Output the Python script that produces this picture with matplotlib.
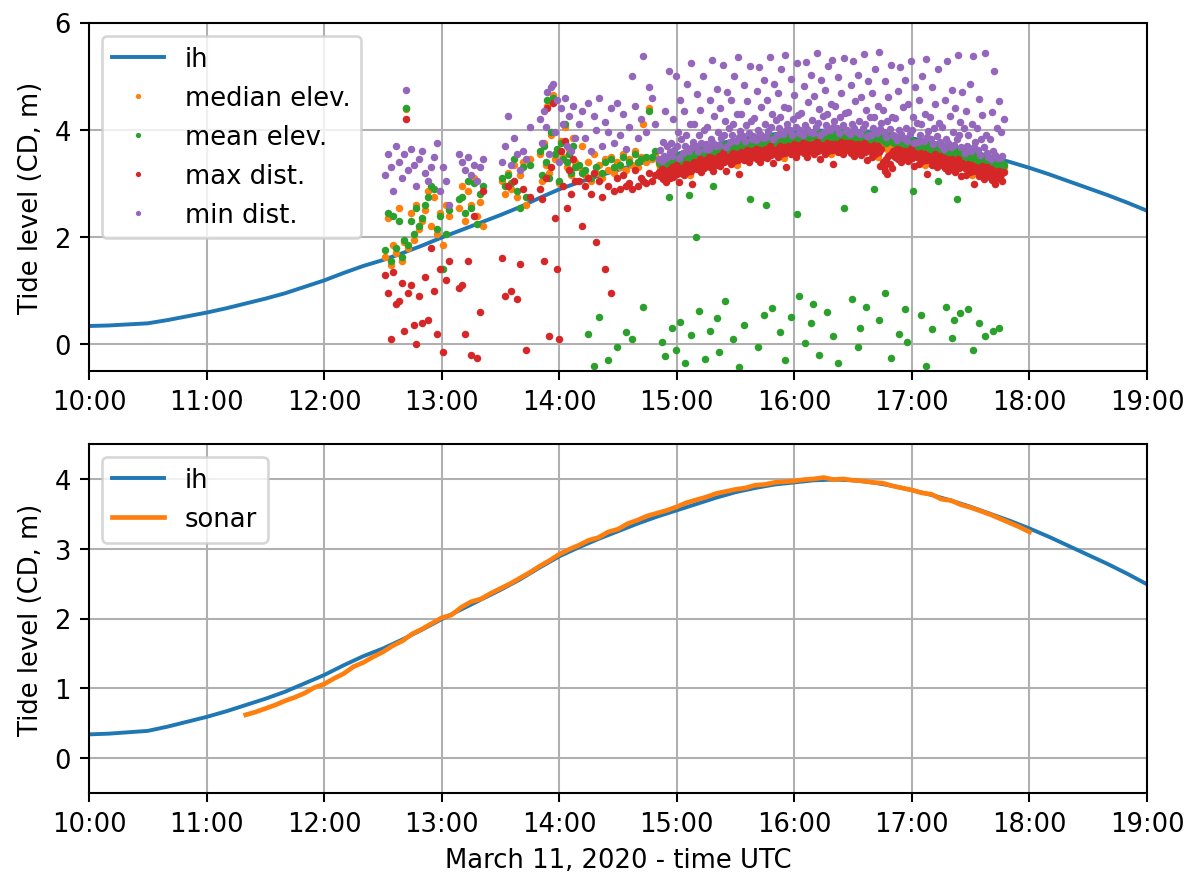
import matplotlib.pyplot as plt
import numpy as np

# predicted tide (ih), every 10 min from 10:00
ih_min = [0, 10, 20, 30, 40, 50, 60, 70, 80, 90,
          100, 110, 120, 130, 140, 150, 160, 170, 180, 190,
          200, 210, 220, 230, 240, 250, 260, 270, 280, 290,
          300, 310, 320, 330, 340, 350, 360, 370, 380, 390,
          400, 410, 420, 430, 440, 450, 460, 470, 480, 490,
          500, 510, 520, 530, 540]
ih_level = [0.34, 0.35, 0.37, 0.39, 0.45, 0.52, 0.59, 0.67, 0.76, 0.85,
            0.95, 1.07, 1.19, 1.33, 1.46, 1.57, 1.70, 1.84, 1.99, 2.13,
            2.27, 2.41, 2.56, 2.73, 2.89, 3.02, 3.14, 3.25, 3.36, 3.46,
            3.55, 3.64, 3.73, 3.81, 3.87, 3.92, 3.95, 3.98, 3.99, 3.98,
            3.95, 3.90, 3.84, 3.77, 3.69, 3.60, 3.50, 3.40, 3.29, 3.17,
            3.04, 2.91, 2.78, 2.64, 2.49]

# sonar tide, every 5 min from 11:20 (minutes after 10:00)
sonar_min = [80, 85, 90, 95, 100, 105, 110, 115, 120, 125,
             130, 135, 140, 145, 150, 155, 160, 165, 170, 175,
             180, 185, 190, 195, 200, 205, 210, 215, 220, 225,
             230, 235, 240, 245, 250, 255, 260, 265, 270, 275,
             280, 285, 290, 295, 300, 305, 310, 315, 320, 325,
             330, 335, 340, 345, 350, 355, 360, 365, 370, 375,
             380, 385, 390, 395, 400, 405, 410, 415, 420, 425,
             430, 435, 440, 445, 450, 455, 460, 465, 470, 475, 480]
sonar_level = [0.62, 0.66, 0.71, 0.76, 0.82, 0.87, 0.93, 1.01, 1.06, 1.14,
               1.21, 1.31, 1.37, 1.45, 1.52, 1.61, 1.68, 1.78, 1.85, 1.93,
               2.01, 2.05, 2.16, 2.24, 2.28, 2.36, 2.43, 2.50, 2.58, 2.66,
               2.75, 2.83, 2.92, 2.99, 3.05, 3.12, 3.16, 3.24, 3.28, 3.36,
               3.41, 3.47, 3.51, 3.55, 3.60, 3.66, 3.70, 3.74, 3.79, 3.82,
               3.85, 3.87, 3.91, 3.92, 3.95, 3.96, 3.97, 3.99, 4.00, 4.02,
               3.99, 4.00, 3.98, 3.97, 3.95, 3.94, 3.90, 3.87, 3.84, 3.80,
               3.78, 3.71, 3.69, 3.63, 3.59, 3.54, 3.49, 3.43, 3.37, 3.31, 3.24]

# lidar scans, minutes after 12:00
scan_min = [
    31, 32.5, 34, 35, 36.5, 38, 39.5, 41, 42, 43, 44.5, 46, 47, 48.5, 50, 51.5,
    53, 54.5, 56, 57.5, 59, 60.5, 62, 63.5,
    69, 70.5, 72, 73.5, 75, 76.5, 78, 79.5, 81,
    91, 92.5, 94, 95.5, 97, 98.5, 100, 101.5, 103, 105,
    110, 111, 112, 113, 114, 115, 116, 117, 118, 119, 120, 121, 122, 123, 124,
    125, 126, 127, 128,
    130, 131.5, 133, 134.5, 136, 137.5, 139, 140.5, 142, 143.5, 145, 146.5, 148,
    149.5, 151, 152.5, 154, 155.5, 157, 158.5, 160, 161.5, 163, 164.5, 166, 167.5, 169,
    171.0, 171.6, 172.2, 172.8, 173.4, 174.0, 174.6, 175.2, 175.8, 176.4,
    177.0, 177.6, 178.2, 178.8, 179.4, 180.0, 180.6, 181.2, 181.8, 182.4,
    183.0, 183.6, 184.2, 184.8, 185.4, 186.0, 186.6, 187.2, 187.8, 188.4,
    189.0, 189.6, 190.2, 190.8, 191.4, 192.0, 192.6, 193.2, 193.8, 194.4,
    195.0, 195.6, 196.2, 196.8, 197.4, 198.0, 198.6, 199.2, 199.8, 200.4,
    201.0, 201.6, 202.2, 202.8, 203.4, 204.0, 204.6, 205.2, 205.8, 206.4,
    207.0, 207.6, 208.2, 208.8, 209.4, 210.0, 210.6, 211.2, 211.8, 212.4,
    213.0, 213.6, 214.2, 214.8, 215.4, 216.0, 216.6, 217.2, 217.8, 218.4,
    219.0, 219.6, 220.2, 220.8, 221.4, 222.0, 222.6, 223.2, 223.8, 224.4,
    225.0, 225.6, 226.2, 226.8, 227.4, 228.0, 228.6, 229.2, 229.8, 230.4,
    231.0, 231.6, 232.2, 232.8, 233.4, 234.0, 234.6, 235.2, 235.8, 236.4,
    237.0, 237.6, 238.2, 238.8, 239.4, 240.0, 240.6, 241.2, 241.8, 242.4,
    243.0, 243.6, 244.2, 244.8, 245.4, 246.0, 246.6, 247.2, 247.8, 248.4,
    249.0, 249.6, 250.2, 250.8, 251.4, 252.0, 252.6, 253.2, 253.8, 254.4,
    255.0, 255.6, 256.2, 256.8, 257.4, 258.0, 258.6, 259.2, 259.8, 260.4,
    261.0, 261.6, 262.2, 262.8, 263.4, 264.0, 264.6, 265.2, 265.8, 266.4,
    267.0, 267.6, 268.2, 268.8, 269.4, 270.0, 270.6, 271.2, 271.8, 272.4,
    273.0, 273.6, 274.2, 274.8, 275.4, 276.0, 276.6, 277.2, 277.8, 278.4,
    279.0, 279.6, 280.2, 280.8, 281.4, 282.0, 282.6, 283.2, 283.8, 284.4,
    285.0, 285.6, 286.2, 286.8, 287.4, 288.0, 288.6, 289.2, 289.8, 290.4,
    291.0, 291.6, 292.2, 292.8, 293.4, 294.0, 294.6, 295.2, 295.8, 296.4,
    297.0, 297.6, 298.2, 298.8, 299.4, 300.0, 300.6, 301.2, 301.8, 302.4,
    303.0, 303.6, 304.2, 304.8, 305.4, 306.0, 306.6, 307.2, 307.8, 308.4,
    309.0, 309.6, 310.2, 310.8, 311.4, 312.0, 312.6, 313.2, 313.8, 314.4,
    315.0, 315.6, 316.2, 316.8, 317.4, 318.0, 318.6, 319.2, 319.8, 320.4,
    321.0, 321.6, 322.2, 322.8, 323.4, 324.0, 324.6, 325.2, 325.8, 326.4,
    327.0, 327.6, 328.2, 328.8, 329.4, 330.0, 330.6, 331.2, 331.8, 332.4,
    333.0, 333.6, 334.2, 334.8, 335.4, 336.0, 336.6, 337.2, 337.8, 338.4,
    339.0, 339.6, 340.2, 340.8, 341.4, 342.0, 342.6, 343.2, 343.8, 344.4,
    345.0, 345.6, 346.2, 346.8]

median_elev = [
    1.62, 2.35, 1.48, 1.85, 1.70, 2.55, 1.55, 1.90, 4.38, 1.80, 2.45, 1.95, 2.60, 2.15, 2.30, 2.50,
    2.85, 2.20, 2.75, 2.05, 2.45, 1.85, 2.60, 2.40,
    2.55, 2.95, 2.30, 2.85, 2.60, 3.10, 2.40, 2.65, 2.20,
    3.05, 2.80, 3.20, 2.90, 3.35, 2.75, 3.15, 3.40, 2.60, 3.45,
    3.55, 3.05, 3.75, 3.35, 4.45, 3.20, 3.90, 4.65, 3.45, 3.60, 3.00, 3.80, 3.50, 4.05, 3.30,
    3.65, 3.15, 3.85, 3.40,
    3.30, 3.70, 3.15, 3.40, 3.05, 3.55, 3.20, 3.35, 3.10, 3.45, 3.25, 3.50, 3.20,
    3.40, 3.30, 3.55, 3.25, 3.45, 3.35, 3.60, 3.30, 3.50, 4.10, 3.40, 4.40, 3.45, 3.55,
    3.37, 3.31, 3.42, 3.27, 3.35, 3.40, 3.23, 3.38, 3.33, 3.44,
    3.40, 3.47, 3.35, 3.42, 3.25, 3.45, 3.38, 3.49, 3.32, 3.43,
    3.50, 3.39, 3.46, 3.56, 3.42, 3.48, 3.15, 3.44, 3.51, 3.41,
    3.54, 3.48, 3.59, 3.44, 3.52, 3.57, 3.40, 3.55, 3.50, 3.61,
    3.59, 3.53, 3.64, 3.49, 3.57, 3.62, 3.45, 3.60, 3.55, 3.66,
    3.61, 3.68, 3.56, 3.63, 3.46, 3.66, 3.59, 3.70, 3.53, 3.64,
    3.70, 3.59, 3.66, 3.76, 3.62, 3.68, 3.35, 3.64, 3.71, 3.61,
    3.72, 3.66, 3.77, 3.62, 3.70, 3.75, 3.58, 3.73, 3.68, 3.79,
    3.75, 3.69, 3.80, 3.65, 3.73, 3.78, 3.61, 3.76, 3.71, 3.82,
    3.75, 3.82, 3.70, 3.77, 3.60, 3.80, 3.73, 3.84, 3.67, 3.78,
    3.83, 3.72, 3.79, 3.89, 3.75, 3.81, 3.48, 3.77, 3.84, 3.74,
    3.83, 3.77, 3.88, 3.73, 3.81, 3.86, 3.69, 3.84, 3.79, 3.90,
    3.85, 3.79, 3.90, 3.75, 3.83, 3.88, 3.71, 3.86, 3.81, 3.92,
    3.83, 3.90, 3.78, 3.85, 3.68, 3.88, 3.81, 3.92, 3.75, 3.86,
    3.89, 3.78, 3.85, 3.95, 3.81, 3.87, 3.54, 3.83, 3.90, 3.80,
    3.87, 3.81, 3.92, 3.77, 3.85, 3.90, 3.73, 3.88, 3.83, 3.94,
    3.86, 3.80, 3.91, 3.76, 3.84, 3.89, 3.72, 3.87, 3.82, 3.93,
    3.81, 3.88, 3.76, 3.83, 3.66, 3.86, 3.79, 3.90, 3.73, 3.84,
    3.84, 3.73, 3.80, 3.90, 3.76, 3.82, 3.49, 3.78, 3.85, 3.75,
    3.92, 3.86, 3.80, 3.74, 3.68, 3.62, 3.71, 3.58, 3.66, 3.53,
    3.74, 3.68, 3.79, 3.64, 3.72, 3.77, 3.60, 3.75, 3.70, 3.81,
    3.69, 3.76, 3.64, 3.71, 3.54, 3.74, 3.67, 3.78, 3.61, 3.72,
    3.70, 3.59, 3.66, 3.76, 3.62, 3.68, 3.35, 3.64, 3.71, 3.61,
    3.63, 3.57, 3.68, 3.53, 3.61, 3.66, 3.49, 3.64, 3.59, 3.70,
    3.58, 3.52, 3.63, 3.48, 3.56, 3.61, 3.44, 3.59, 3.54, 3.65,
    3.50, 3.57, 3.45, 3.52, 3.35, 3.55, 3.48, 3.59, 3.42, 3.53,
    3.50, 3.39, 3.46, 3.56, 3.42, 3.48, 3.15, 3.44, 3.51, 3.41,
    3.42, 3.36, 3.47, 3.32, 3.40, 3.45, 3.28, 3.43, 3.38, 3.49,
    3.36, 3.30, 3.41, 3.26, 3.34, 3.39, 3.22, 3.37, 3.32, 3.43,
    3.33, 3.28, 3.36, 3.30]

mean_elev = [
    1.75, 2.45, 1.55, 2.40, 1.80, 2.30, 1.62, 1.95, 4.40, 1.85, 2.30, 2.05, 2.55, 2.20, 2.35, 2.60,
    2.75, 2.95, 2.90, 2.15, 2.40, 1.40, 2.05, 2.50,
    2.70, 2.75, 2.45, 3.05, 2.55, 3.00, 2.25, 2.80, 2.95,
    3.10, 2.95, 3.15, 3.00, 3.45, 2.85, 2.55, 3.30, 2.75, 3.35,
    3.60, 3.15, 3.70, 3.40, 4.55, 3.10, 3.95, 4.60, 3.55, 3.65, 3.05, 3.75, 3.45, 4.10, 3.40,
    3.55, 3.20, 3.70, 3.30,
    3.35, 3.20, 3.25, 0.20, 3.10, -0.40, 3.30, 0.50, 3.20, 3.40, -0.30, 3.45, 3.30,
    -0.05, 3.35, 3.50, 0.22, 3.40, 0.10, 3.55, 3.40, 3.45, 0.70, 3.50, 4.35, 3.50, 3.60,
    3.40, 3.36, 0.05, 3.33, 3.39, -0.22, 3.37, 3.30, 2.75, 3.38,
    3.46, 0.30, 3.49, 3.39, -0.10, 3.51, 3.43, 3.36, 0.42, 3.44,
    3.51, 3.47, -0.35, 3.44, 3.50, 2.78, 3.48, 0.18, 3.52, 3.46,
    3.57, 2.00, 3.60, 3.50, 0.62, 3.62, 3.54, 3.47, 3.58, -0.28,
    3.62, 3.58, 3.65, 0.25, 3.61, 3.67, 2.95, 3.52, 3.63, 0.48,
    3.67, -0.15, 3.70, 3.60, 3.66, 3.72, 0.80, 3.57, 3.68, 3.65,
    3.71, 3.67, 3.74, 0.10, 3.70, 3.76, 3.68, 3.61, -0.42, 3.69,
    3.75, 3.71, 0.35, 3.68, 3.74, 3.80, 3.72, 2.70, 3.76, 3.73,
    3.78, 3.74, 3.81, 3.71, -0.05, 3.83, 3.75, 3.68, 3.79, 0.55,
    3.81, 2.60, 3.84, 3.74, 3.80, 3.86, 0.68, 3.71, 3.82, 3.79,
    3.84, 3.80, 3.87, 0.22, 3.83, 3.89, 3.81, -0.30, 3.85, 3.82,
    3.86, 3.82, 0.50, 3.79, 3.85, 3.91, 3.83, 2.42, 3.87, 0.90,
    3.88, 3.84, 3.91, 3.81, 0.02, 3.93, 3.85, 3.78, 3.89, 0.40,
    3.89, 0.75, 3.92, 3.82, 3.88, 3.94, -0.20, 3.79, 3.90, 3.87,
    3.90, 3.86, 3.93, 0.60, 3.89, 3.95, 3.87, 3.80, 0.15, 3.88,
    3.90, 3.86, -0.35, 3.83, 3.89, 3.95, 3.87, 2.55, 3.91, 3.88,
    3.89, 3.85, 3.92, 3.82, 0.85, 3.94, 3.86, 3.79, 3.90, -0.05,
    3.87, 0.30, 3.90, 3.80, 3.86, 3.92, 0.70, 3.77, 3.88, 3.85,
    3.85, 3.81, 3.88, 2.90, 3.84, 3.90, 3.82, 0.45, 3.86, 3.83,
    3.85, 3.79, 0.95, 3.76, 3.82, 3.88, 3.80, -0.25, 3.83, 3.78,
    3.78, 3.74, 3.81, 3.71, 0.20, 3.83, 3.75, 3.68, 3.79, 0.65,
    3.75, 0.05, 3.78, 3.68, 3.74, 3.80, 2.85, 3.65, 3.76, 3.73,
    3.71, 3.67, 3.74, 0.55, 3.70, 3.76, 3.68, -0.40, 3.72, 3.69,
    3.66, 3.62, 0.28, 3.59, 3.65, 3.71, 3.63, 3.05, 3.67, 3.64,
    3.61, 3.57, 3.64, 3.54, 0.70, 3.66, 3.58, 3.51, 3.62, 0.12,
    3.56, 0.45, 3.59, 2.70, 3.55, 3.61, 0.58, 3.46, 3.57, 3.54,
    3.51, 3.47, 3.54, 0.65, 3.50, 3.56, 3.48, -0.10, 3.52, 3.49,
    3.45, 3.41, 0.40, 3.38, 3.44, 3.50, 3.42, 0.15, 3.46, 3.43,
    3.39, 3.35, 3.42, 3.32, 0.25, 3.44, 3.36, 3.29, 3.40, 0.30,
    3.36, 3.31, 3.38, 3.34]

max_dist = [
    1.30, 0.95, 0.10, 1.35, 0.75, 0.80, 1.15, 0.25, 4.20, 0.95, 1.10, 0.35, 0.00, 0.90, 0.40, 1.25,
    0.45, 1.80, 1.00, 0.20, 1.40, -0.15, 1.20, 1.55,
    1.05, 1.10, 0.20, 1.55, -0.20, 2.40, -0.25, 0.60, 2.85,
    1.60, 0.90, 2.95, 1.00, 3.05, 0.85, 1.50, 2.90, -0.10, 2.75,
    2.90, 2.70, 1.55, 3.10, 4.40, 0.15, 3.30, 4.50, 2.35, 1.40, 0.10, 3.60, 2.95, 3.80, 2.55,
    3.25, 2.80, 3.45, 3.05,
    3.05, 2.20, 2.95, 3.10, 2.80, 3.20, 1.90, 3.05, 2.75, 1.40, 2.95, 0.95, 2.85,
    3.10, 2.90, 3.15, 2.95, 3.00, 2.90, 3.25, 2.95, 3.10, 3.05, 3.00, 3.20, 3.05, 3.15,
    3.21, 3.13, 3.27, 3.08, 3.18, 3.23, 3.02, 3.16, 3.25, 3.11,
    3.21, 3.30, 3.12, 3.25, 3.35, 3.18, 3.26, 3.03, 3.28, 3.20,
    3.29, 3.16, 3.33, 3.37, 3.21, 3.27, 3.35, 3.24, 2.98, 3.31,
    3.40, 3.33, 3.26, 3.38, 3.31, 3.45, 3.21, 3.36, 3.29, 3.42,
    3.43, 3.35, 3.49, 3.30, 3.40, 3.47, 3.24, 3.38, 3.34, 3.46,
    3.42, 3.51, 3.33, 3.46, 3.56, 3.39, 3.47, 3.24, 3.49, 3.41,
    3.49, 3.36, 3.53, 3.57, 3.41, 3.47, 3.55, 3.44, 3.18, 3.51,
    3.58, 3.51, 3.44, 3.56, 3.49, 3.63, 3.39, 3.54, 3.47, 3.60,
    3.59, 3.51, 3.65, 3.46, 3.56, 3.63, 3.40, 3.54, 3.50, 3.62,
    3.56, 3.65, 3.47, 3.60, 3.70, 3.53, 3.61, 3.38, 3.63, 3.55,
    3.62, 3.49, 3.66, 3.70, 3.54, 3.60, 3.68, 3.57, 3.31, 3.64,
    3.69, 3.62, 3.55, 3.67, 3.60, 3.74, 3.50, 3.65, 3.58, 3.71,
    3.69, 3.61, 3.75, 3.56, 3.66, 3.73, 3.50, 3.64, 3.60, 3.72,
    3.64, 3.73, 3.55, 3.68, 3.78, 3.61, 3.69, 3.46, 3.71, 3.63,
    3.68, 3.55, 3.72, 3.76, 3.60, 3.66, 3.74, 3.63, 3.37, 3.70,
    3.73, 3.66, 3.59, 3.71, 3.64, 3.78, 3.54, 3.69, 3.62, 3.75,
    3.70, 3.62, 3.76, 3.57, 3.67, 3.74, 3.51, 3.65, 3.61, 3.73,
    3.62, 3.71, 3.53, 3.66, 3.76, 3.59, 3.67, 3.44, 3.69, 3.61,
    3.63, 3.50, 3.67, 3.71, 3.55, 3.61, 3.69, 3.58, 3.32, 3.65,
    3.40, 3.31, 3.24, 3.45, 3.18, 3.52, 3.36, 3.55, 3.29, 3.60,
    3.58, 3.50, 3.64, 3.45, 3.55, 3.62, 3.39, 3.53, 3.49, 3.61,
    3.50, 3.59, 3.41, 3.54, 3.64, 3.47, 3.55, 3.32, 3.57, 3.49,
    3.49, 3.36, 3.53, 3.57, 3.41, 3.47, 3.55, 3.44, 3.18, 3.51,
    3.49, 3.42, 3.35, 3.47, 3.40, 3.54, 3.30, 3.45, 3.38, 3.51,
    3.42, 3.34, 3.48, 3.29, 3.39, 3.46, 3.23, 3.37, 3.33, 3.45,
    3.31, 3.40, 3.22, 3.35, 3.45, 3.28, 3.36, 3.13, 3.38, 3.30,
    3.29, 3.16, 3.33, 3.37, 3.21, 3.27, 3.35, 3.24, 2.98, 3.31,
    3.28, 3.21, 3.14, 3.26, 3.19, 3.33, 3.09, 3.24, 3.17, 3.30,
    3.20, 3.12, 3.26, 3.07, 3.17, 3.24, 2.98, 3.15, 3.11, 3.23,
    3.12, 3.18, 3.05, 3.22]

min_dist = [
    3.15, 3.55, 3.30, 2.85, 3.70, 3.40, 3.10, 3.55, 4.75, 3.25, 3.65, 3.35, 2.95, 3.45, 3.60, 3.20,
    3.05, 3.30, 3.50, 3.75, 2.85, 3.30, 3.05, 2.60,
    3.55, 3.40, 3.25, 3.50, 3.15, 3.35, 3.05, 3.30, 3.45,
    3.40, 3.70, 4.25, 3.35, 3.85, 3.55, 3.25, 3.60, 3.45, 4.05,
    4.20, 3.75, 4.35, 4.05, 4.70, 3.55, 4.80, 4.85, 3.95, 4.55, 3.40, 4.40, 4.10, 4.60, 3.70,
    4.25, 3.60, 4.45, 3.85,
    4.10, 4.35, 3.85, 4.50, 3.60, 4.25, 4.00, 4.60, 3.70, 4.15, 3.95, 4.40, 3.75,
    4.50, 3.90, 4.30, 3.65, 4.05, 5.00, 4.45, 3.85, 4.20, 5.38, 3.95, 4.80, 4.60, 4.10,
    3.45, 3.62, 3.41, 3.78, 3.52, 4.35, 3.48, 3.70, 5.10, 3.58,
    3.75, 3.51, 4.20, 3.63, 5.00, 3.70, 3.95, 3.47, 4.55, 3.83,
    3.57, 4.35, 3.70, 3.90, 4.85, 3.60, 4.10, 5.25, 3.67, 3.78,
    4.11, 3.70, 4.66, 3.61, 3.91, 4.36, 3.76, 5.01, 3.99, 3.65,
    3.73, 4.06, 3.65, 4.56, 3.83, 5.30, 3.76, 4.26, 3.69, 4.76,
    3.96, 3.72, 4.41, 3.84, 5.21, 3.91, 4.16, 3.68, 4.71, 4.04,
    3.77, 4.55, 3.90, 4.10, 5.00, 3.80, 4.30, 5.35, 3.87, 3.98,
    4.29, 3.88, 4.84, 3.79, 4.09, 4.54, 3.94, 5.19, 4.17, 3.83,
    3.89, 4.22, 3.81, 4.72, 3.99, 5.17, 3.92, 4.42, 3.85, 4.92,
    4.10, 3.86, 4.55, 3.98, 5.35, 4.05, 4.30, 3.82, 4.85, 4.18,
    3.90, 4.68, 4.03, 4.23, 5.13, 3.93, 4.43, 5.40, 4.00, 4.11,
    4.40, 3.99, 4.95, 3.90, 4.20, 4.65, 4.05, 5.25, 4.28, 3.94,
    3.99, 4.32, 3.91, 4.82, 4.09, 5.27, 4.02, 4.52, 3.95, 5.02,
    4.18, 3.94, 4.63, 4.06, 5.43, 4.13, 4.38, 3.90, 4.93, 4.26,
    3.96, 4.74, 4.09, 4.29, 5.19, 3.99, 4.49, 5.30, 4.06, 4.17,
    4.44, 4.03, 4.99, 3.94, 4.24, 4.69, 4.09, 5.34, 4.32, 3.98,
    4.00, 4.33, 3.92, 4.83, 4.10, 5.28, 4.03, 4.53, 3.96, 5.03,
    4.16, 3.92, 4.61, 4.04, 5.41, 4.11, 4.36, 3.88, 4.91, 4.24,
    3.91, 4.69, 4.04, 4.24, 5.14, 3.94, 4.44, 5.45, 4.01, 4.12,
    4.36, 3.95, 4.91, 3.86, 4.16, 4.61, 4.01, 5.21, 4.24, 3.90,
    3.89, 4.22, 3.81, 4.72, 3.99, 5.17, 3.92, 4.42, 3.85, 4.92,
    4.04, 3.80, 4.49, 3.92, 5.29, 3.99, 4.24, 3.76, 4.79, 4.12,
    3.77, 4.55, 3.90, 4.10, 5.00, 3.80, 4.30, 5.32, 3.87, 3.98,
    4.24, 3.83, 4.79, 3.74, 4.04, 4.49, 3.89, 5.14, 4.12, 3.78,
    3.72, 4.05, 3.64, 4.55, 3.82, 5.28, 3.75, 4.25, 3.68, 4.75,
    3.95, 3.71, 4.40, 3.83, 5.40, 3.90, 4.15, 3.67, 4.70, 4.03,
    3.57, 4.35, 3.70, 3.90, 4.85, 3.60, 4.10, 5.38, 3.67, 3.78,
    4.03, 3.62, 4.58, 3.53, 3.83, 4.28, 3.68, 5.43, 3.91, 3.57,
    3.50, 3.83, 3.45, 4.33, 3.60, 5.10, 3.53, 4.03, 3.47, 4.53,
    3.48, 3.95, 3.52, 4.20]

hour_ticks = [10, 11, 12, 13, 14, 15, 16, 17, 18, 19]
hour_labels = ['10:00', '11:00', '12:00', '13:00', '14:00',
               '15:00', '16:00', '17:00', '18:00', '19:00']

ih_h = 10 + np.array(ih_min) / 60.0
sonar_h = 10 + np.array(sonar_min) / 60.0
scan_h = 12 + np.array(scan_min) / 60.0

fig = plt.figure(figsize=(6.4, 4.683), dpi=186.4)
ax1 = fig.add_axes([0.0746, 0.5739, 0.8869, 0.3992])
ax2 = fig.add_axes([0.0746, 0.0905, 0.8869, 0.3998])

# top: lidar estimates against the prediction
ax1.plot(ih_h, ih_level, color='C0', label='ih')
series = [(median_elev, 'median elev.', 'C1'),
          (mean_elev, 'mean elev.', 'C2'),
          (max_dist, 'max dist.', 'C3'),
          (min_dist, 'min dist.', 'C4')]
for vals, lbl, col in series:
    ax1.plot(scan_h, vals, 'o', ms=2.9, mew=0, color=col, label=lbl)

ax1.set_xlim(10, 19)
ax1.set_ylim(-0.5, 6)
ax1.set_yticks([0, 2, 4, 6])
ax1.set_xticks(hour_ticks)
ax1.set_xticklabels(hour_labels)
ax1.set_ylabel('Tide level (CD, m)')
ax1.grid(True)
ax1.legend(loc='upper left', markerscale=0.7)

# bottom: sonar against the prediction
ax2.plot(ih_h, ih_level, color='C0', label='ih')
ax2.plot(sonar_h, sonar_level, color='C1', lw=1.8, label='sonar')
ax2.set_xlim(10, 19)
ax2.set_ylim(-0.5, 4.5)
ax2.set_yticks([0, 1, 2, 3, 4])
ax2.set_xticks(hour_ticks)
ax2.set_xticklabels(hour_labels)
ax2.set_ylabel('Tide level (CD, m)')
ax2.set_xlabel('March 11, 2020 - time UTC')
ax2.grid(True)
ax2.legend(loc='upper left')

fig.savefig('out.png', dpi=186.4)
